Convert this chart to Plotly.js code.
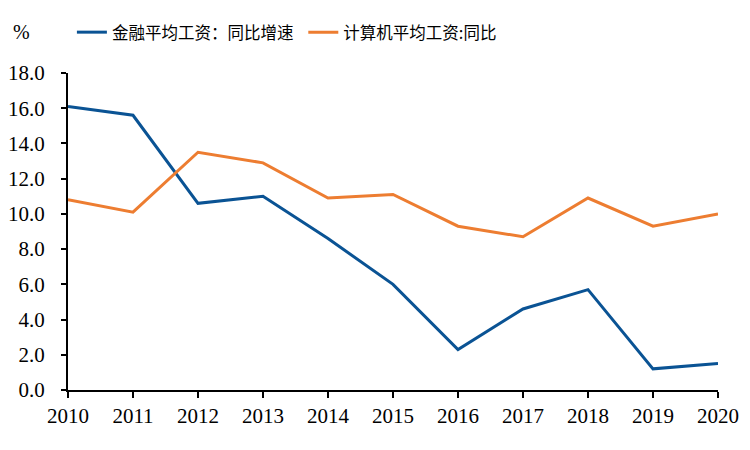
<!DOCTYPE html>
<html>
<head>
<meta charset="utf-8">
<script src="https://cdn.plot.ly/plotly-3.0.1.min.js"></script>
<style>html,body{margin:0;padding:0;background:#fff;}#chart{width:750px;height:450px;}</style>
</head>
<body>
<div id="chart"></div>
<script>
const years = ['2010','2011','2012','2013','2014','2015','2016','2017','2018','2019','2020'];
const financeName = '金融平均工资：同比增速';
const financeValues = [16.1, 15.6, 10.6, 11.0, 8.6, 6.0, 2.3, 4.6, 5.7, 1.2, 1.5];
const computerName = '计算机平均工资:同比';
const computerValues = [10.8, 10.1, 13.5, 12.9, 10.9, 11.1, 9.3, 8.7, 10.9, 9.3, 10.0];
const yTickVals = [0, 2, 4, 6, 8, 10, 12, 14, 16, 18];
const yUnit = '%';

const cjk = '"Noto Sans CJK SC", "Liberation Serif", serif';
const serif = '"Liberation Serif", "Times New Roman", serif';

const traces = [
  {x: years.map(Number), y: financeValues, name: financeName, type: 'scatter', mode: 'lines',
   line: {color: '#0A5394', width: 3}, legend: 'legend'},
  {x: years.map(Number), y: computerValues, name: computerName, type: 'scatter', mode: 'lines',
   line: {color: '#ED7D31', width: 3}, legend: 'legend2'}
];

const legendBase = {orientation: 'h', xanchor: 'left', y: 1.128, yanchor: 'middle',
  font: {family: cjk, size: 16.5, color: '#000'}, itemwidth: 30, bgcolor: 'rgba(0,0,0,0)'};

const layout = {
  width: 750, height: 450,
  margin: {l: 68, r: 32, t: 73, b: 60},
  paper_bgcolor: '#fff', plot_bgcolor: '#fff',
  showlegend: true,
  legend: Object.assign({}, legendBase, {x: 0.006}),
  legend2: Object.assign({}, legendBase, {x: 0.362}),
  xaxis: {range: [2010, 2020], tickvals: years.map(Number), ticktext: years,
          showgrid: false, zeroline: false, showline: true, linecolor: '#000', linewidth: 2,
          ticks: 'outside', ticklen: 6, tickwidth: 2, tickcolor: '#000',
          tickfont: {family: serif, size: 21, color: '#000'}, fixedrange: true},
  yaxis: {range: [0, 18], tickvals: yTickVals, ticktext: yTickVals.map(v => v.toFixed(1)),
          showgrid: false, zeroline: false, showline: true, linecolor: '#000', linewidth: 2,
          ticks: 'outside', ticklen: 5, tickwidth: 2, tickcolor: '#000', ticklabelstandoff: 12,
          tickfont: {family: serif, size: 21, color: '#000'}, fixedrange: true},
  annotations: [{text: yUnit, xref: 'paper', yref: 'paper', x: -0.088, y: 1.128,
                 xanchor: 'left', yanchor: 'middle', showarrow: false,
                 font: {family: serif, size: 20, color: '#000'}}]
};

Plotly.newPlot('chart', traces, layout, {displayModeBar: false, staticPlot: true});
</script>
</body>
</html>
